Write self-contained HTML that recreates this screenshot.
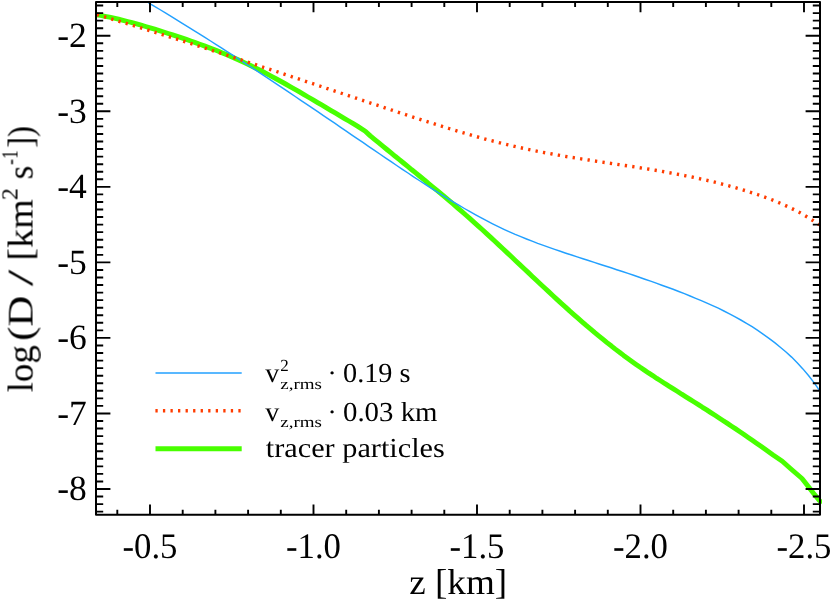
<!DOCTYPE html>
<html><head><meta charset="utf-8"><title>plot</title>
<style>
html,body{margin:0;padding:0;background:#fff;}
body{width:830px;height:606px;overflow:hidden;font-family:"Liberation Serif",serif;}
svg{display:block;}
text{font-family:"Liberation Serif",serif;fill:#000;}
</style></head><body>
<svg width="830" height="606" viewBox="0 0 830 606" text-rendering="geometricPrecision">
<rect width="830" height="606" fill="#fff"/>
<clipPath id="c"><rect x="96" y="2" width="726" height="513"/></clipPath>
<g clip-path="url(#c)" fill="none" stroke-linejoin="round">
<path d="M96.0,14.7 L100.5,15.4 L105.0,16.3 L109.5,17.2 L114.1,18.2 L118.6,19.2 L123.1,20.3 L127.6,21.5 L132.1,22.7 L136.6,23.9 L141.1,25.2 L145.6,26.5 L150.2,27.9 L154.7,29.2 L159.2,30.6 L163.7,32.0 L168.2,33.5 L172.7,34.9 L177.2,36.4 L181.8,37.9 L186.3,39.4 L190.8,41.0 L195.3,42.6 L199.8,44.2 L204.3,45.9 L208.8,47.6 L213.4,49.3 L217.9,51.1 L222.4,53.0 L226.9,54.8 L231.4,56.8 L235.9,58.8 L240.4,60.8 L244.9,62.9 L249.5,65.0 L254.0,67.2 L258.5,69.5 L263.0,71.8 L267.5,74.2 L272.0,76.6 L276.5,79.0 L281.1,81.5 L285.6,84.0 L290.1,86.6 L294.6,89.1 L299.1,91.7 L303.6,94.4 L308.1,97.0 L312.7,99.6 L317.2,102.3 L321.7,104.9 L326.2,107.6 L330.7,110.3 L335.2,112.9 L339.7,115.6 L344.2,118.3 L348.8,121.0 L353.3,123.7 L357.8,126.4 L365.3,131.2 L370.3,135.9 L374.5,139.3 L378.6,142.7 L382.8,146.1 L386.9,149.5 L391.1,152.9 L395.2,156.3 L399.4,159.6 L403.5,163.0 L407.7,166.4 L411.8,169.8 L416.0,173.1 L420.1,176.5 L424.3,179.9 L428.4,183.4 L432.6,186.8 L436.7,190.2 L440.9,193.7 L445.1,197.2 L449.2,200.7 L453.4,204.2 L457.5,207.8 L461.7,211.4 L465.8,215.0 L470.0,218.7 L474.1,222.3 L478.3,226.1 L482.4,229.8 L486.6,233.6 L490.7,237.4 L494.9,241.3 L499.0,245.1 L503.2,249.0 L507.3,252.9 L511.5,256.8 L515.6,260.7 L519.8,264.6 L523.9,268.5 L528.1,272.4 L532.3,276.4 L536.4,280.3 L540.6,284.2 L544.7,288.0 L548.9,291.9 L553.0,295.7 L557.2,299.6 L561.3,303.4 L565.5,307.1 L569.6,310.9 L573.8,314.6 L577.9,318.2 L582.1,321.8 L586.2,325.4 L590.4,328.9 L594.5,332.4 L598.7,335.8 L602.8,339.2 L607.0,342.6 L611.2,345.8 L615.3,349.1 L619.5,352.2 L623.6,355.4 L627.8,358.4 L631.9,361.4 L636.1,364.4 L640.2,367.3 L644.4,370.1 L648.5,372.9 L652.7,375.6 L656.8,378.4 L661.0,381.0 L665.1,383.7 L669.3,386.3 L673.4,388.9 L677.6,391.5 L681.7,394.2 L685.9,396.8 L690.0,399.4 L694.2,402.0 L698.4,404.6 L702.5,407.3 L706.7,409.9 L710.8,412.6 L715.0,415.3 L719.1,418.0 L723.3,420.7 L727.4,423.4 L731.6,426.2 L735.7,428.9 L739.9,431.7 L744.0,434.5 L748.2,437.4 L752.3,440.3 L756.5,443.2 L760.6,446.1 L764.8,449.1 L773.1,455.0 L782.3,461.2 L790.4,468.5 L802.0,478.5 L807.7,485.8 L813.5,493.3 L819.3,500.4 L822.0,503.2" stroke="#48ff00" stroke-width="4.9"/>
<path d="M148.5,2.8 L154.1,6.1 L159.8,9.5 L165.4,12.9 L171.1,16.3 L176.7,19.8 L182.3,23.3 L188.0,26.8 L193.6,30.3 L199.3,33.8 L204.9,37.4 L210.6,41.0 L216.2,44.6 L221.8,48.2 L227.5,51.8 L233.1,55.4 L238.8,59.1 L244.4,62.8 L250.0,66.5 L255.7,70.2 L261.3,73.9 L267.0,77.7 L272.6,81.4 L278.2,85.2 L283.9,88.9 L289.5,92.7 L295.2,96.5 L300.8,100.3 L306.5,104.1 L312.1,107.9 L317.7,111.7 L323.4,115.6 L329.0,119.4 L334.7,123.2 L340.3,127.1 L345.9,130.9 L351.6,134.8 L357.2,138.6 L362.9,142.4 L368.5,146.3 L374.1,150.1 L379.8,154.0 L385.4,157.8 L391.1,161.7 L396.7,165.5 L402.4,169.3 L408.0,173.0 L413.6,176.8 L419.3,180.5 L424.9,184.2 L430.6,187.8 L436.2,191.4 L441.8,194.9 L447.5,198.4 L453.1,201.8 L458.8,205.2 L464.4,208.5 L470.0,211.7 L475.7,214.9 L481.3,217.9 L487.0,220.9 L492.6,223.8 L498.3,226.6 L503.9,229.3 L509.5,231.9 L515.2,234.4 L520.8,236.7 L526.5,239.0 L532.1,241.2 L537.7,243.4 L543.4,245.4 L549.0,247.4 L554.7,249.4 L560.3,251.3 L565.9,253.2 L571.6,255.0 L577.2,256.9 L582.9,258.7 L588.5,260.5 L594.2,262.4 L599.8,264.2 L605.4,266.0 L611.1,267.8 L616.7,269.7 L622.4,271.5 L628.0,273.4 L633.6,275.3 L639.3,277.2 L644.9,279.2 L650.6,281.1 L656.2,283.1 L661.8,285.2 L667.5,287.2 L673.1,289.3 L678.8,291.5 L684.4,293.7 L690.1,296.0 L695.7,298.3 L701.3,300.6 L707.0,303.1 L712.6,305.6 L718.3,308.2 L723.9,311.0 L729.5,313.8 L735.2,316.8 L740.8,320.0 L746.5,323.3 L752.1,326.7 L757.7,330.4 L763.4,334.3 L769.0,338.3 L774.7,342.6 L780.3,347.2 L786.0,352.0 L791.6,357.1 L797.2,362.7 L802.9,368.9 L808.5,375.5 L814.2,382.9 L819.8,390.9" stroke="#22a0ff" stroke-width="1.45"/>
<path d="M96.5,14.5 L102.6,16.3 L108.7,18.1 L114.7,20.0 L120.8,21.8 L126.9,23.6 L133.0,25.5 L139.0,27.3 L145.1,29.2 L151.2,31.1 L157.3,33.0 L163.3,34.9 L169.4,36.8 L175.5,38.7 L181.6,40.6 L187.6,42.6 L193.7,44.5 L199.8,46.5 L205.9,48.4 L211.9,50.4 L218.0,52.4 L224.1,54.3 L230.2,56.3 L236.2,58.3 L242.3,60.3 L248.4,62.3 L254.5,64.3 L260.5,66.3 L266.6,68.3 L272.7,70.3 L278.8,72.3 L284.8,74.4 L290.9,76.4 L297.0,78.4 L303.1,80.4 L309.1,82.5 L315.2,84.5 L321.3,86.5 L327.4,88.6 L333.4,90.6 L339.5,92.6 L345.6,94.7 L351.7,96.7 L357.8,98.7 L363.8,100.8 L369.9,102.8 L376.0,104.8 L382.1,106.8 L388.1,108.9 L394.2,110.9 L400.3,112.9 L406.4,114.9 L412.4,116.9 L418.5,118.9 L424.6,120.9 L430.7,122.8 L436.7,124.7 L442.8,126.6 L448.9,128.5 L455.0,130.3 L461.0,132.2 L467.1,133.9 L473.2,135.7 L479.3,137.4 L485.3,139.1 L491.4,140.7 L497.5,142.2 L503.6,143.8 L509.6,145.2 L515.7,146.7 L521.8,148.0 L527.9,149.3 L533.9,150.6 L540.0,151.8 L546.1,152.9 L552.2,154.0 L558.2,155.1 L564.3,156.2 L570.4,157.2 L576.5,158.1 L582.6,159.1 L588.6,160.0 L594.7,161.0 L600.8,161.9 L606.9,162.8 L612.9,163.7 L619.0,164.6 L625.1,165.5 L631.2,166.4 L637.2,167.3 L643.3,168.3 L649.4,169.3 L655.5,170.3 L661.5,171.3 L667.6,172.4 L673.7,173.5 L679.8,174.6 L685.8,175.8 L691.9,177.0 L698.0,178.3 L704.1,179.7 L710.1,181.1 L716.2,182.5 L722.3,184.1 L728.4,185.7 L734.4,187.4 L740.5,189.2 L746.6,191.0 L752.7,193.0 L758.7,195.0 L764.8,197.2 L770.9,199.4 L777.0,201.9 L783.0,204.4 L789.1,207.2 L795.2,210.2 L801.3,213.4 L807.3,217.0 L813.4,220.8 L819.5,224.9" stroke="#ff3c00" stroke-width="3.4" stroke-dasharray="2.3 5.235" stroke-dashoffset="-0.3"/>
</g>
<rect x="96.0" y="2.0" width="724.0" height="512.8" fill="none" stroke="#000" stroke-width="2" stroke-linejoin="round"/>
<path d="M117.30,514.8 v-5.1 M117.30,2.0 v5.1 M150.00,514.8 v-10.2 M150.00,2.0 v10.2 M182.70,514.8 v-5.1 M182.70,2.0 v5.1 M215.40,514.8 v-5.1 M215.40,2.0 v5.1 M248.10,514.8 v-5.1 M248.10,2.0 v5.1 M280.80,514.8 v-5.1 M280.80,2.0 v5.1 M313.50,514.8 v-10.2 M313.50,2.0 v10.2 M346.20,514.8 v-5.1 M346.20,2.0 v5.1 M378.90,514.8 v-5.1 M378.90,2.0 v5.1 M411.60,514.8 v-5.1 M411.60,2.0 v5.1 M444.30,514.8 v-5.1 M444.30,2.0 v5.1 M477.00,514.8 v-10.2 M477.00,2.0 v10.2 M509.70,514.8 v-5.1 M509.70,2.0 v5.1 M542.40,514.8 v-5.1 M542.40,2.0 v5.1 M575.10,514.8 v-5.1 M575.10,2.0 v5.1 M607.80,514.8 v-5.1 M607.80,2.0 v5.1 M640.50,514.8 v-10.2 M640.50,2.0 v10.2 M673.20,514.8 v-5.1 M673.20,2.0 v5.1 M705.90,514.8 v-5.1 M705.90,2.0 v5.1 M738.60,514.8 v-5.1 M738.60,2.0 v5.1 M771.30,514.8 v-5.1 M771.30,2.0 v5.1 M804.00,514.8 v-10.2 M804.00,2.0 v10.2 M96.0,5.54 h7.2 M820.0,5.54 h-7.2 M96.0,13.10 h7.2 M820.0,13.10 h-7.2 M96.0,20.65 h7.2 M820.0,20.65 h-7.2 M96.0,28.21 h7.2 M820.0,28.21 h-7.2 M96.0,35.76 h14.4 M820.0,35.76 h-14.4 M96.0,43.31 h7.2 M820.0,43.31 h-7.2 M96.0,50.87 h7.2 M820.0,50.87 h-7.2 M96.0,58.42 h7.2 M820.0,58.42 h-7.2 M96.0,65.98 h7.2 M820.0,65.98 h-7.2 M96.0,73.53 h7.2 M820.0,73.53 h-7.2 M96.0,81.08 h7.2 M820.0,81.08 h-7.2 M96.0,88.64 h7.2 M820.0,88.64 h-7.2 M96.0,96.19 h7.2 M820.0,96.19 h-7.2 M96.0,103.75 h7.2 M820.0,103.75 h-7.2 M96.0,111.30 h14.4 M820.0,111.30 h-14.4 M96.0,118.85 h7.2 M820.0,118.85 h-7.2 M96.0,126.41 h7.2 M820.0,126.41 h-7.2 M96.0,133.96 h7.2 M820.0,133.96 h-7.2 M96.0,141.52 h7.2 M820.0,141.52 h-7.2 M96.0,149.07 h7.2 M820.0,149.07 h-7.2 M96.0,156.62 h7.2 M820.0,156.62 h-7.2 M96.0,164.18 h7.2 M820.0,164.18 h-7.2 M96.0,171.73 h7.2 M820.0,171.73 h-7.2 M96.0,179.29 h7.2 M820.0,179.29 h-7.2 M96.0,186.84 h14.4 M820.0,186.84 h-14.4 M96.0,194.39 h7.2 M820.0,194.39 h-7.2 M96.0,201.95 h7.2 M820.0,201.95 h-7.2 M96.0,209.50 h7.2 M820.0,209.50 h-7.2 M96.0,217.06 h7.2 M820.0,217.06 h-7.2 M96.0,224.61 h7.2 M820.0,224.61 h-7.2 M96.0,232.16 h7.2 M820.0,232.16 h-7.2 M96.0,239.72 h7.2 M820.0,239.72 h-7.2 M96.0,247.27 h7.2 M820.0,247.27 h-7.2 M96.0,254.83 h7.2 M820.0,254.83 h-7.2 M96.0,262.38 h14.4 M820.0,262.38 h-14.4 M96.0,269.93 h7.2 M820.0,269.93 h-7.2 M96.0,277.49 h7.2 M820.0,277.49 h-7.2 M96.0,285.04 h7.2 M820.0,285.04 h-7.2 M96.0,292.60 h7.2 M820.0,292.60 h-7.2 M96.0,300.15 h7.2 M820.0,300.15 h-7.2 M96.0,307.70 h7.2 M820.0,307.70 h-7.2 M96.0,315.26 h7.2 M820.0,315.26 h-7.2 M96.0,322.81 h7.2 M820.0,322.81 h-7.2 M96.0,330.37 h7.2 M820.0,330.37 h-7.2 M96.0,337.92 h14.4 M820.0,337.92 h-14.4 M96.0,345.47 h7.2 M820.0,345.47 h-7.2 M96.0,353.03 h7.2 M820.0,353.03 h-7.2 M96.0,360.58 h7.2 M820.0,360.58 h-7.2 M96.0,368.14 h7.2 M820.0,368.14 h-7.2 M96.0,375.69 h7.2 M820.0,375.69 h-7.2 M96.0,383.24 h7.2 M820.0,383.24 h-7.2 M96.0,390.80 h7.2 M820.0,390.80 h-7.2 M96.0,398.35 h7.2 M820.0,398.35 h-7.2 M96.0,405.91 h7.2 M820.0,405.91 h-7.2 M96.0,413.46 h14.4 M820.0,413.46 h-14.4 M96.0,421.01 h7.2 M820.0,421.01 h-7.2 M96.0,428.57 h7.2 M820.0,428.57 h-7.2 M96.0,436.12 h7.2 M820.0,436.12 h-7.2 M96.0,443.68 h7.2 M820.0,443.68 h-7.2 M96.0,451.23 h7.2 M820.0,451.23 h-7.2 M96.0,458.78 h7.2 M820.0,458.78 h-7.2 M96.0,466.34 h7.2 M820.0,466.34 h-7.2 M96.0,473.89 h7.2 M820.0,473.89 h-7.2 M96.0,481.45 h7.2 M820.0,481.45 h-7.2 M96.0,489.00 h14.4 M820.0,489.00 h-14.4 M96.0,496.55 h7.2 M820.0,496.55 h-7.2 M96.0,504.11 h7.2 M820.0,504.11 h-7.2 M96.0,511.66 h7.2 M820.0,511.66 h-7.2" stroke="#000" stroke-width="1.9" fill="none"/>
<path d="M155.5,372.9 H241.7" stroke="#22a0ff" stroke-width="1.45"/>
<path d="M155.4,410.8 H241.7" stroke="#ff3c00" stroke-width="3.4" stroke-dasharray="2.3 5.24"/>
<path d="M155.5,448.8 H241.7" stroke="#48ff00" stroke-width="4.9"/>
<g opacity="0.999"><text x="86.8" y="47.1" font-size="35.5" text-anchor="end">-2</text>
<text x="86.8" y="122.6" font-size="35.5" text-anchor="end">-3</text>
<text x="86.8" y="198.1" font-size="35.5" text-anchor="end">-4</text>
<text x="86.8" y="273.7" font-size="35.5" text-anchor="end">-5</text>
<text x="86.8" y="349.2" font-size="35.5" text-anchor="end">-6</text>
<text x="86.8" y="424.8" font-size="35.5" text-anchor="end">-7</text>
<text x="86.8" y="500.3" font-size="35.5" text-anchor="end">-8</text>
<text x="150.0" y="557.5" font-size="36" text-anchor="middle" textLength="55" lengthAdjust="spacingAndGlyphs">-0.5</text>
<text x="313.5" y="557.5" font-size="36" text-anchor="middle" textLength="55" lengthAdjust="spacingAndGlyphs">-1.0</text>
<text x="477.0" y="557.5" font-size="36" text-anchor="middle" textLength="55" lengthAdjust="spacingAndGlyphs">-1.5</text>
<text x="640.5" y="557.5" font-size="36" text-anchor="middle" textLength="55" lengthAdjust="spacingAndGlyphs">-2.0</text>
<text x="804.0" y="557.5" font-size="36" text-anchor="middle" textLength="55" lengthAdjust="spacingAndGlyphs">-2.5</text>
<text x="409.2" y="594.4" font-size="36" textLength="98" lengthAdjust="spacingAndGlyphs">z [km]</text>
<g transform="translate(32.5,391.4) rotate(-90)" font-size="36">
<text x="-1" y="0" textLength="47.3" lengthAdjust="spacingAndGlyphs">log</text>
<text x="50.6" y="0" textLength="45.2" lengthAdjust="spacingAndGlyphs">(D</text>
<text x="105.2" y="0" textLength="16.5" lengthAdjust="spacingAndGlyphs">/</text>
<text x="130.7" y="0" textLength="61.5" lengthAdjust="spacingAndGlyphs">[km</text>
<text x="191.2" y="-15.3" font-size="23" textLength="12" lengthAdjust="spacingAndGlyphs">2</text>
<text x="212" y="0" textLength="13.8" lengthAdjust="spacingAndGlyphs">s</text>
<text x="226.6" y="-15.3" font-size="23" textLength="14.5" lengthAdjust="spacingAndGlyphs">-1</text>
<text x="243.5" y="0" textLength="21.9" lengthAdjust="spacingAndGlyphs">])</text>
</g>
<g font-size="27.5">
<text x="265.2" y="381.8" textLength="14" lengthAdjust="spacingAndGlyphs">v</text>
<text x="280.3" y="371.2" font-size="17">2</text>
<text x="280.3" y="388.6" font-size="15.5" textLength="41.7" lengthAdjust="spacingAndGlyphs">z,rms</text>
<text x="332.1" y="381.8" text-anchor="middle">·</text>
<text x="343" y="381.8" textLength="67.5" lengthAdjust="spacingAndGlyphs">0.19 s</text>
<text x="265.2" y="420.6" textLength="14" lengthAdjust="spacingAndGlyphs">v</text>
<text x="280.3" y="426.6" font-size="15.5" textLength="41.7" lengthAdjust="spacingAndGlyphs">z,rms</text>
<text x="332.1" y="420.6" text-anchor="middle">·</text>
<text x="343" y="420.6" textLength="94.5" lengthAdjust="spacingAndGlyphs">0.03 km</text>
<text x="265.8" y="456.7" textLength="179" lengthAdjust="spacingAndGlyphs">tracer particles</text>
</g></g>
</svg>
</body></html>
